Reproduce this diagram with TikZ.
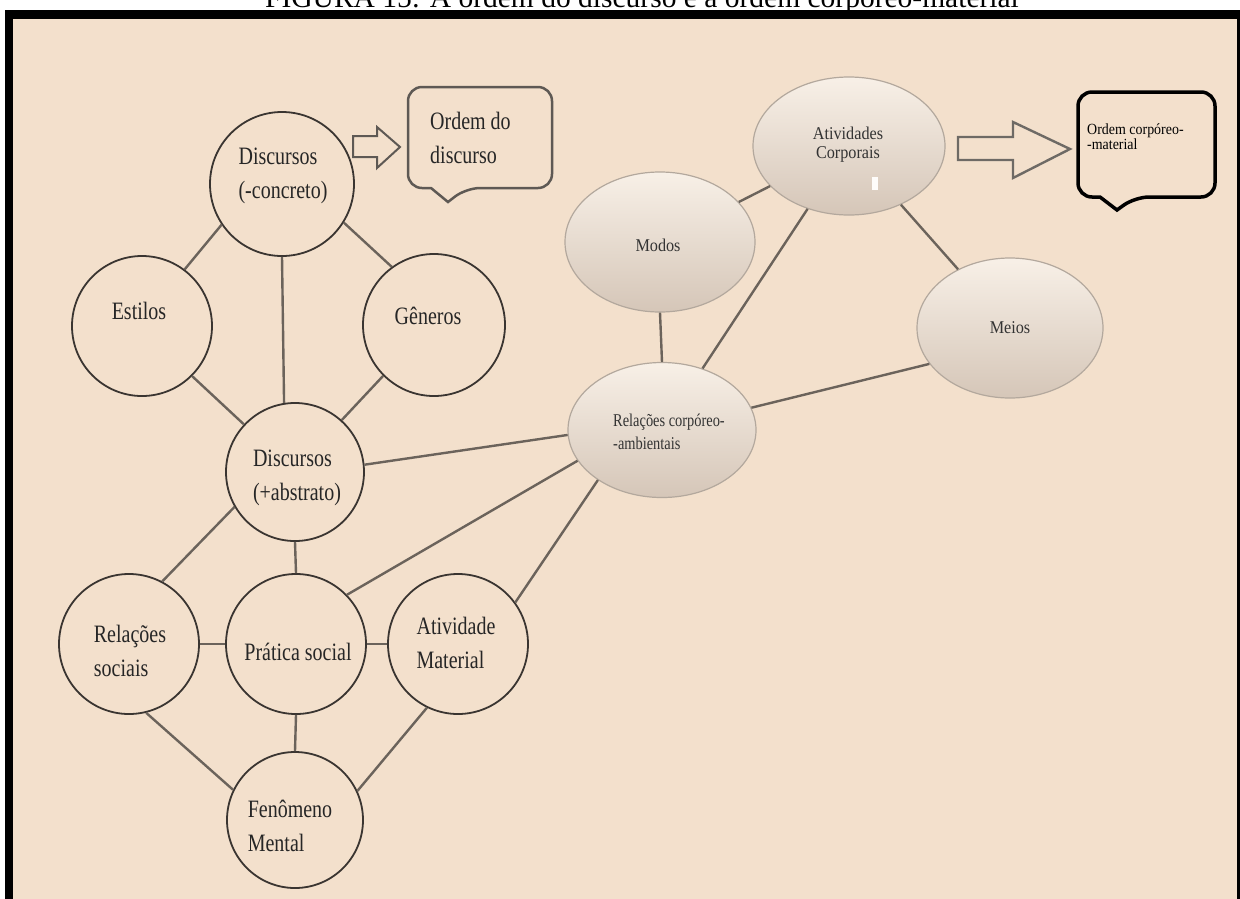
\documentclass[tikz,border=0pt]{standalone}
\usepackage{fontspec}
\setmainfont{Liberation Serif}
\newfontfamily\cf[FakeStretch=0.8]{Liberation Serif}
\newfontfamily\rf[FakeStretch=0.9]{Liberation Serif}
\usetikzlibrary{shapes.geometric}
\definecolor{bg}{HTML}{F3E0CC}
\definecolor{edgec}{HTML}{6B635B}
\definecolor{ring}{HTML}{3A3531}
\definecolor{elb}{HTML}{B3A89D}
\definecolor{eltop}{HTML}{F8F0E7}
\definecolor{elbot}{HTML}{D5C6B8}
\definecolor{boxc}{HTML}{5E5954}
\tikzset{
  circ/.style={circle, draw=ring, line width=1.8pt, fill=bg, minimum size=140pt, inner sep=0pt},
  clbl/.style={align=left, inner sep=0pt, font=\cf\fontsize{25}{34}\selectfont, text=black!85},
  ell/.style={ellipse, draw=elb, line width=1.2pt, top color=eltop, bottom color=elbot, inner sep=0pt},
  rlbl/.style={align=left, inner sep=0pt, font=\rf\fontsize{18}{19}\selectfont, text=black!80},
  conn/.style={draw=edgec, line width=2.4pt},
}
\begin{document}
\begin{tikzpicture}[x=1pt,y=-1pt]
\useasboundingbox (0,0) rectangle (1240,898);
\fill[white] (0,0) rectangle (1240,898);
% title (top part cut off by the page edge)
\node[anchor=base west, inner sep=0pt, font=\fontsize{29.5}{30}\selectfont] (title) at (265,7) {FIGURA 15: A ordem do discurso e a ordem corpóreo-material};
% frame
\fill[black] (5,10) rectangle (1240,905);
\fill[bg] (13,19) rectangle (1237,905);

% left cluster circles
\node[circ, minimum size=144pt] (dconc) at (282,184) {};
\node[circ] (estilos) at (142,326) {};
\node[circ, minimum size=142pt] (generos) at (434,325) {};
\node[circ, minimum size=138pt] (dabs) at (295,472) {};
\node[circ] (relsoc) at (129,644) {};
\node[circ] (prat) at (296,644) {};
\node[circ] (amat) at (458,644) {};
\node[circ, minimum size=136pt] (fen) at (295,820) {};

\node[clbl] (dconcT) at (283,176) {Discursos\\(-concreto)};
\node[clbl] (estilosT) at (139,311) {Estilos};
\node[clbl] (generosT) at (428,316) {Gêneros};
\node[clbl] (dabsT) at (297,478) {Discursos\\(+abstrato)};
\node[clbl] (relsocT) at (130,651) {Relações\\sociais};
\node[clbl] (pratT) at (298,652) {Prática social};
\node[clbl] (amatT) at (456,643) {Atividade\\Material};
\node[clbl] (fenT) at (290,826) {Fenômeno\\Mental};

% right cluster ellipses
\node[ell, minimum width=192pt, minimum height=138pt] (ativcorp) at (849,146) {};
\node[ell, minimum width=190pt, minimum height=140pt] (modos) at (660,242) {};
\node[ell, minimum width=186pt, minimum height=140pt] (meios) at (1010,328) {};
\node[ell, minimum width=188pt, minimum height=135pt] (relcorp) at (662,430) {};

\node[rlbl, align=center] (ativcorpT) at (848,145) {Atividades\\Corporais};
\node[rlbl] (modosT) at (658,245) {Modos};
\node[rlbl] (meiosT) at (1010,328) {Meios};
\node[rlbl, font=\cf\fontsize{18}{23}\selectfont] (relcorpT) at (669,432) {Relações corpóreo-\\-ambientais};
\fill[white!90!bg] (872,177) rectangle (878,190);

% connectors, left
\draw[conn] (dconc.214) -- (estilos.53);
\draw[conn] (dconc.328) -- (generos.126);
\draw[conn] (dconc.270) -- (dabs.99);
\draw[conn] (estilos.315) -- (dabs.137);
\draw[conn] (generos.225) -- (dabs.48);
\draw[conn] (dabs.6) -- (relcorp.183);
\draw[conn] (dabs.210) -- (relsoc.62);
\draw[conn] (dabs.south) -- (prat.north);
\draw[conn] (prat.44) -- (relcorp.200);
\draw[conn] (amat.36) -- (relcorp.218);
\draw[conn] (relsoc.east) -- (prat.west);
\draw[conn] (prat.east) -- (amat.west);
\draw[conn] (relsoc.284) -- (fen.154);
\draw[conn] (prat.south) -- (fen.north);
\draw[conn] (amat.244) -- (fen.25);
% connectors, right
\draw[conn] (modos.south) -- (relcorp.north);
\draw[conn] (modos) -- (ativcorp);
\draw[conn] (ativcorp) -- (relcorp);
\draw[conn] (ativcorp) -- (meios);
\draw[conn] (meios.204) -- (relcorp.14);

% hollow arrows
\draw[boxc, line width=2pt, fill=bg, line join=miter]
  (353,136) -- (377,136) -- (377,127) -- (400,147) -- (377,168) -- (377,157) -- (353,157) -- cycle;
\draw[boxc!90!white, line width=2.4pt, fill=bg, line join=miter]
  (958,137) -- (1013,137) -- (1013,122) -- (1070,149) -- (1013,178) -- (1013,160) -- (958,160) -- cycle;

% callout boxes
\draw[boxc, line width=2.5pt, fill=bg, rounded corners=14pt]
  (408,87) -- (552,87) -- (552,188) -- (466,188) [sharp corners] -- (448,202) -- (431,188) [rounded corners=14pt] -- (408,188) -- cycle;
\node[anchor=north west, inner sep=0pt, font=\cf\fontsize{25}{34}\selectfont, align=left, text=black!85] (od) at (430,112) {Ordem do\\discurso};

\draw[black, line width=3.5pt, fill=bg, rounded corners=14pt]
  (1078,92) -- (1215,92) -- (1215,197) -- (1135,197) [sharp corners] -- (1117,210) -- (1100,197) [rounded corners=14pt] -- (1078,197) -- cycle;
\node[anchor=north west, inner sep=0pt, font=\rf\fontsize{15.5}{15}\selectfont, align=left] (ocm) at (1087,124) {Ordem corpóreo-\\-material};
\end{tikzpicture}
\end{document}
